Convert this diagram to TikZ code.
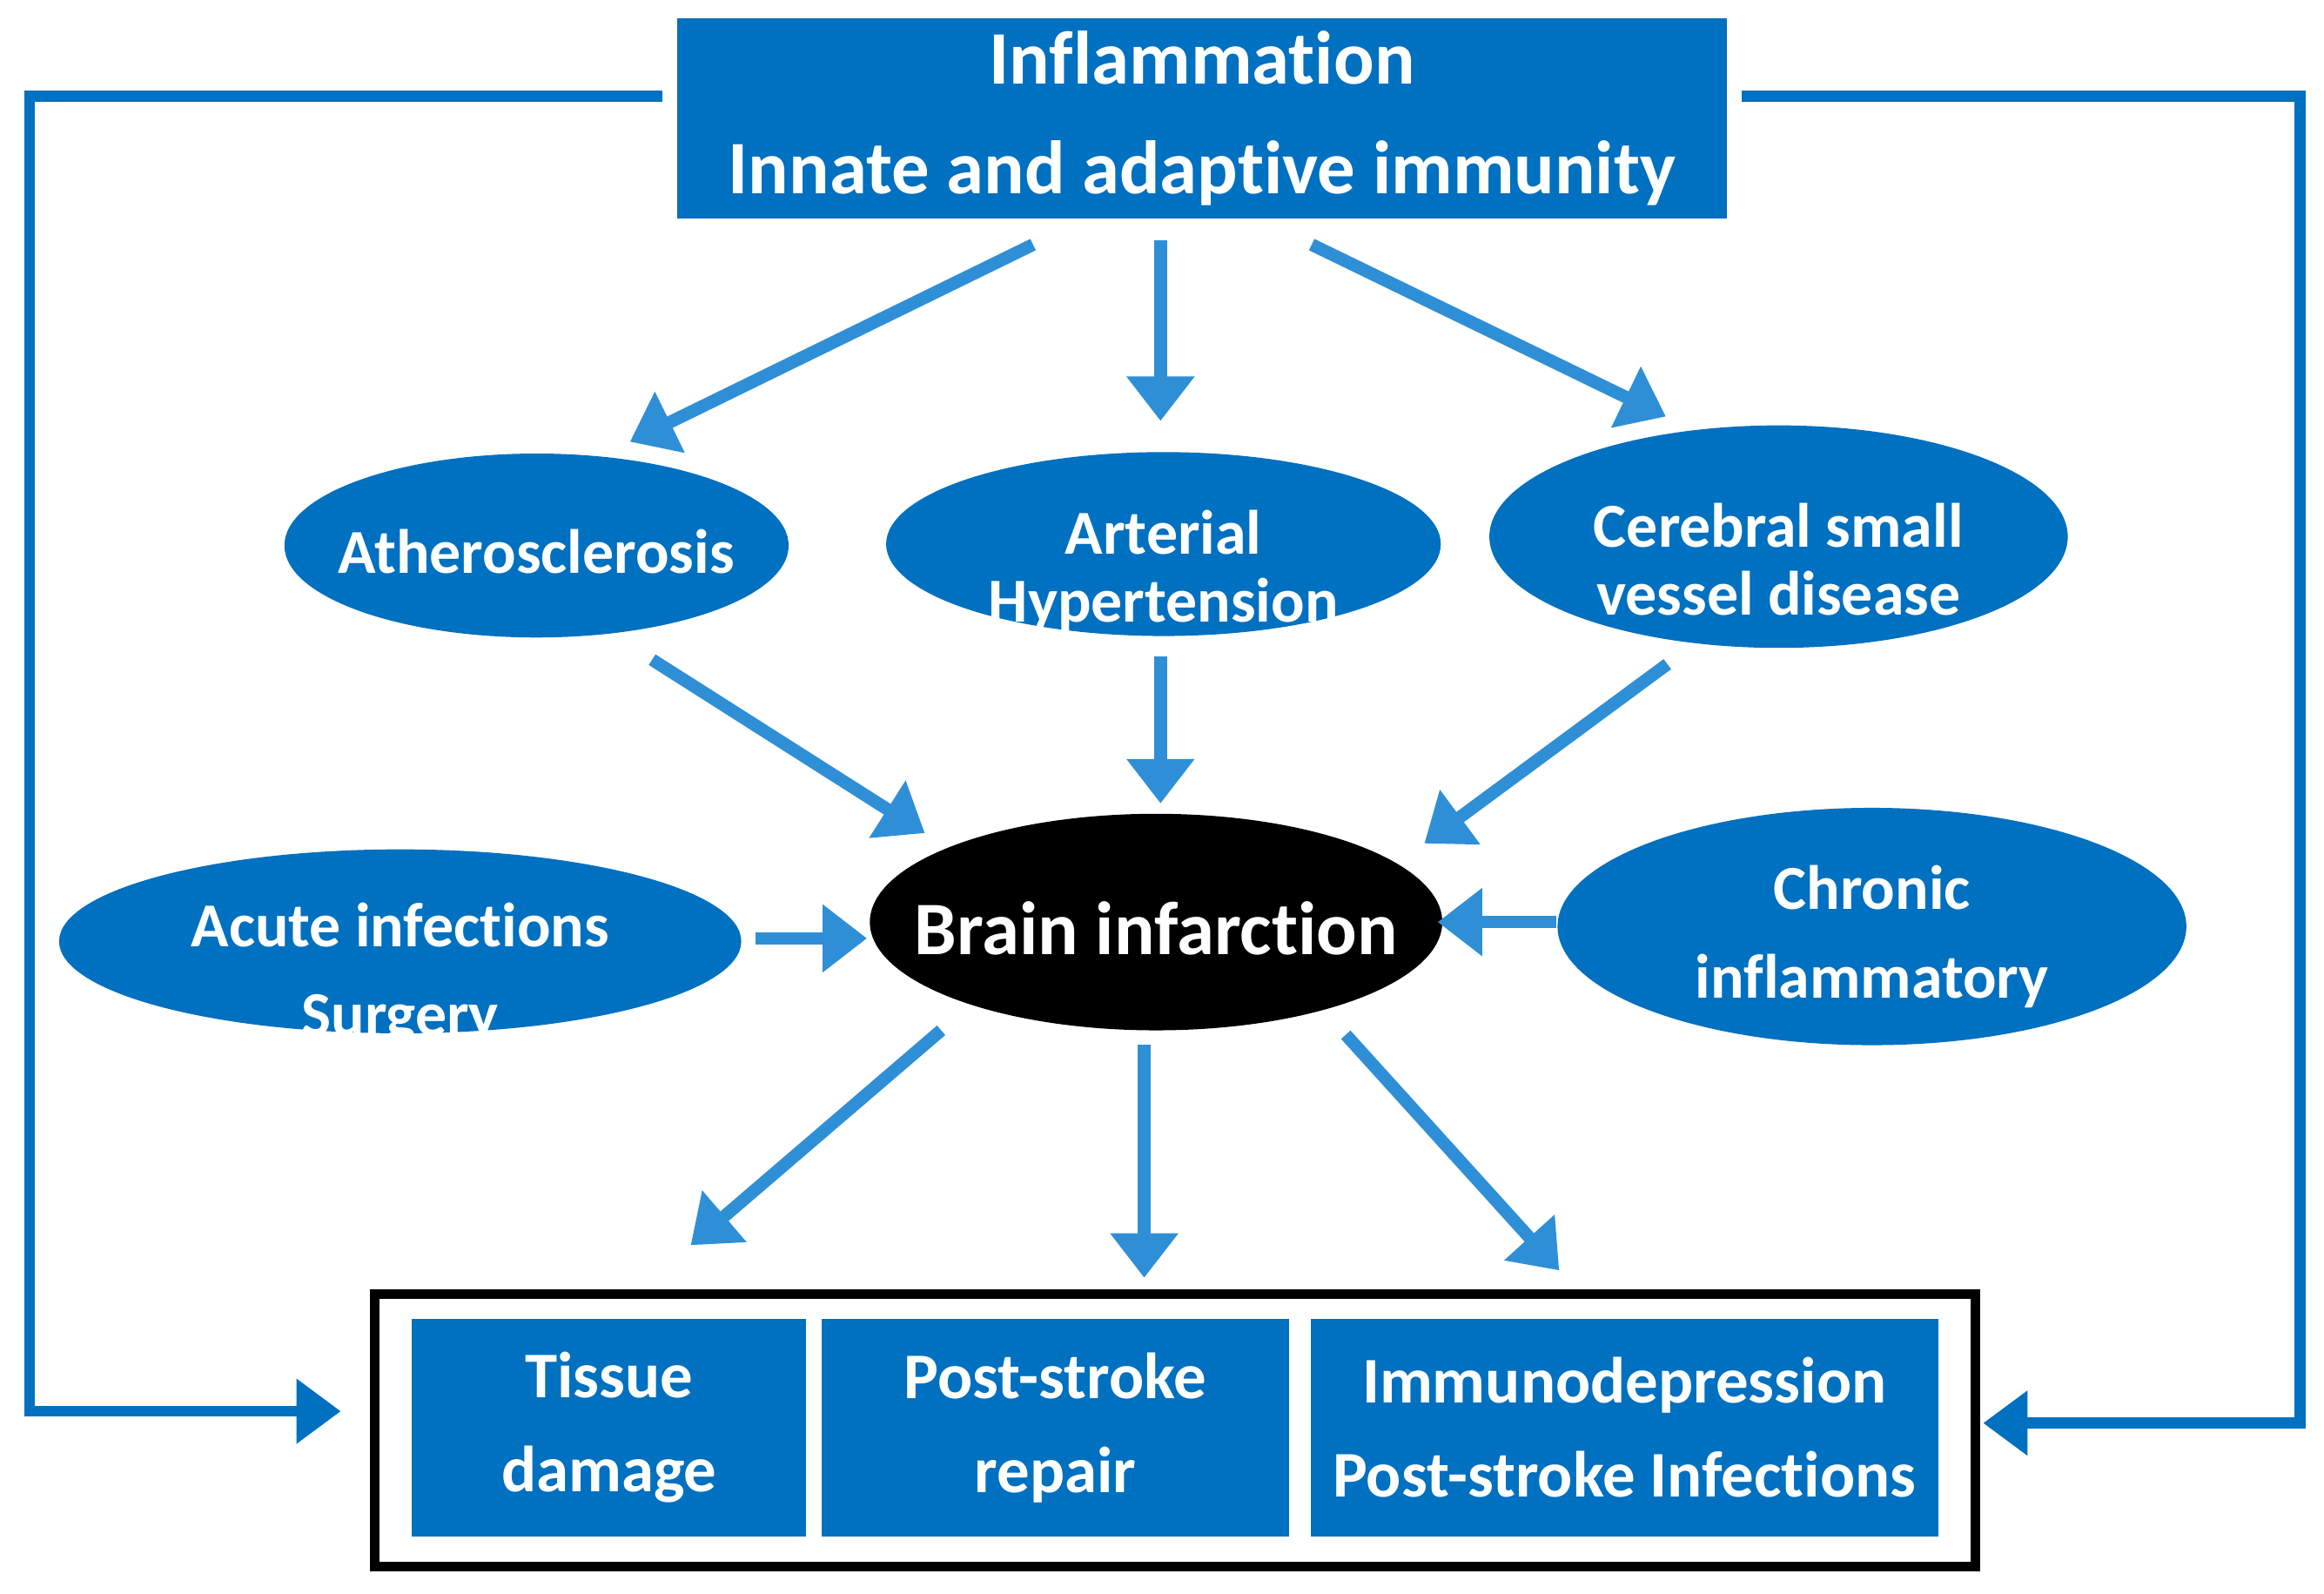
\documentclass[tikz,border=0pt]{standalone}
\usepackage{fontspec}
\setmainfont{Carlito}[Ligatures={NoCommon,NoRare}]
\usetikzlibrary{shapes.geometric,arrows.meta}
\definecolor{boxblue}{HTML}{0070C0}
\definecolor{arrblue}{HTML}{2F8FD6}
\newcommand{\ztext}[2]{\makebox[0pt]{\smash{\raisebox{-0.5\height}{\begin{tabular}{@{}c@{}}\rule{0pt}{0pt}#2\end{tabular}}}}}
\begin{document}
\begin{tikzpicture}[x=0.01cm,y=-0.01cm,
  ell/.style={ellipse,fill=boxblue,text=white,font=\bfseries\fontsize{12}{15}\selectfont,inner sep=0pt},
  bx/.style={rectangle,fill=boxblue,text=white,font=\bfseries\fontsize{12.5}{15}\selectfont,align=center,inner sep=0pt},
  arr/.style={draw=arrblue,line width=0.085cm,-{Triangle[length=0.3cm,width=0.44cm]}},
  loop/.style={draw=boxblue,line width=0.075cm,-{Triangle[length=0.3cm,width=0.42cm]}}]
\useasboundingbox (0,0) rectangle (1568,1075);
\node[bx,minimum width=7.08cm,minimum height=1.35cm,font=\bfseries\fontsize{14.5}{21}\selectfont] (top) at (811,80) {Inflammation\\Innate and adaptive immunity};
\node[ell,minimum width=3.4cm,minimum height=1.24cm] (ath) at (362,368) {\ztext{}{Atherosclerosis}};
\node[ell,minimum width=3.74cm,minimum height=1.24cm] (hyp) at (785,367) {\ztext{}{Arterial\\[-2pt]Hypertension}};
\node[ell,minimum width=3.9cm,minimum height=1.5cm] (csv) at (1200,362) {\ztext{}{Cerebral small\\[-2pt]vessel disease}};
\node[ell,minimum width=4.6cm,minimum height=1.24cm] (acu) at (270,635) {\ztext{}{Acute infections\\[2pt]Surgery}};
\node[ellipse,fill=black,text=white,font=\bfseries\fontsize{14.5}{18}\selectfont,minimum width=3.86cm,minimum height=1.46cm,inner sep=0pt] (bi) at (780,622) {\ztext{}{Brain infarction}};
\node[ell,minimum width=4.24cm,minimum height=1.6cm] (chr) at (1263,625) {\ztext{}{Chronic\\[2pt]inflammatory\\[2pt]diseases}};
\draw[black,line width=1.8pt] (253,873) rectangle (1333,1057);
\node[bx,minimum width=2.66cm,minimum height=1.47cm,font=\bfseries\fontsize{12.5}{18}\selectfont] (tis) at (411,963) {Tissue\\damage};
\node[bx,minimum width=3.15cm,minimum height=1.47cm,font=\bfseries\fontsize{12.5}{18}\selectfont] (psr) at (712,963) {Post-stroke\\repair};
\node[bx,minimum width=4.23cm,minimum height=1.47cm,font=\bfseries\fontsize{12.5}{18}\selectfont] (imm) at (1096,963) {Immunodepression\\Post-stroke Infections};
\coordinate (t1) at (697,165); \coordinate (a1) at (425,298);
\coordinate (t2) at (783,162); \coordinate (a2) at (783,284);
\coordinate (t3) at (885,165); \coordinate (a3) at (1124,281);
\coordinate (m1) at (440,445); \coordinate (b1) at (624,562);
\coordinate (m2) at (783,443); \coordinate (b2) at (783,542);
\coordinate (m3) at (1125,448); \coordinate (b3) at (961,569);
\coordinate (s1) at (510,633); \coordinate (s1e) at (585,633);
\coordinate (s2) at (1050,622); \coordinate (s2e) at (970,622);
\coordinate (d1) at (635,695); \coordinate (e1) at (466,840);
\coordinate (d2) at (772,705); \coordinate (e2) at (772,862);
\coordinate (d3) at (908,698); \coordinate (e3) at (1052,857);
\coordinate (L0) at (447,65); \coordinate (L3) at (230,952);
\coordinate (R0) at (1175,65); \coordinate (R3) at (1338,960);
\foreach \a/\b in {t1/a1,t2/a2,t3/a3,m1/b1,m2/b2,m3/b3,s1/s1e,s2/s2e,d1/e1,d2/e2,d3/e3}
  \draw[arr] (\a) -- (\b);
\draw[loop] (L0) -- (20,65) -- (20,952) -- (L3);
\draw[loop] (R0) -- (1552,65) -- (1552,960) -- (R3);
\end{tikzpicture}
\end{document}
